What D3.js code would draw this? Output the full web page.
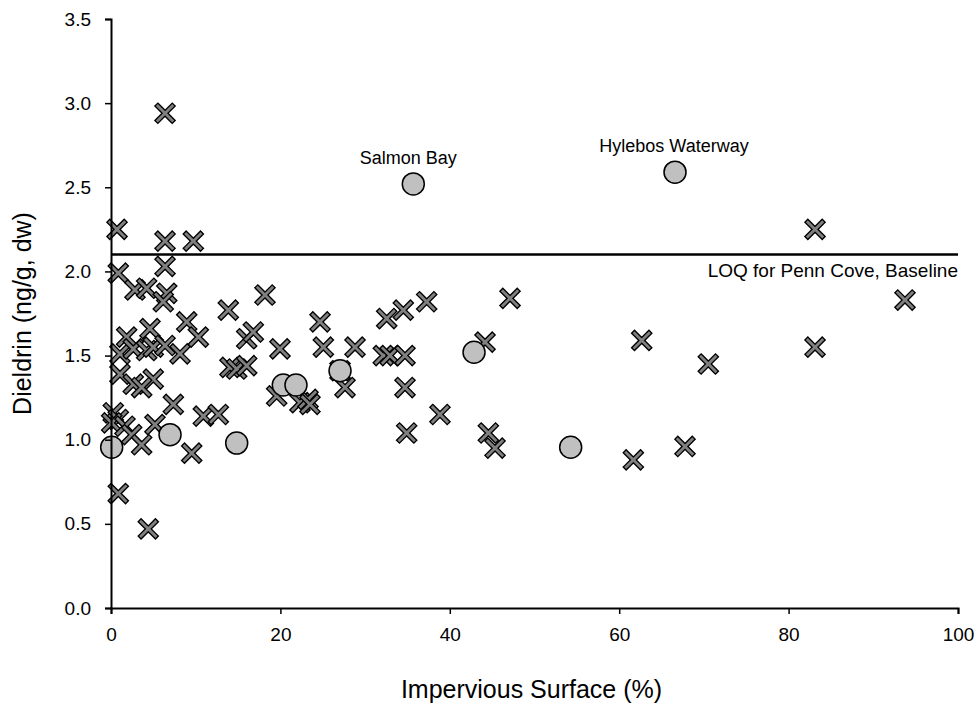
<!DOCTYPE html>
<html>
<head>
<meta charset="utf-8">
<script src="https://cdn.jsdelivr.net/npm/d3@7"></script>
<style>
  html, body { margin: 0; padding: 0; background: #fff; }
  svg { display: block; font-family: "Liberation Sans", Arial, sans-serif; }
</style>
</head>
<body>
<svg id="chart" width="979" height="707"></svg>
<script>
// ---- data ----
const xSitesPct = [6.38, 0.71, 6.38, 9.72, 0.86, 6.38, 2.83, 4.21, 6.58, 6.17, 8.94, 4.60, 1.85, 10.31, 13.85, 18.18,
  1.06, 2.63, 4.21, 4.99, 6.38, 8.15, 16.02, 16.80, 19.95, 14.05, 14.84, 16.02, 1.06, 4.99, 2.63, 3.62, 7.36,
  0.27, 0.86, 0.08, 1.65, 2.44, 3.62, 5.19, 10.90, 12.67, 9.53, 0.86, 4.40, 24.68, 25.07, 28.81, 19.56, 22.31,
  23.26, 23.49, 27.63, 27.04, 32.55, 34.51, 37.27, 32.15, 32.94, 34.71, 34.71, 38.84, 34.91, 44.55, 45.34, 44.16,
  47.11, 62.66, 70.52, 61.67, 67.77, 83.12, 83.12, 93.74];
const xSitesDieldrin = [2.94, 2.25, 2.18, 2.18, 1.99, 2.03, 1.89, 1.90, 1.87, 1.82, 1.70, 1.66, 1.61, 1.61, 1.77, 1.86,
  1.51, 1.54, 1.53, 1.55, 1.56, 1.51, 1.60, 1.64, 1.54, 1.43, 1.42, 1.44, 1.39, 1.36, 1.33, 1.31, 1.21,
  1.16, 1.12, 1.10, 1.08, 1.03, 0.97, 1.09, 1.14, 1.15, 0.92, 0.68, 0.47, 1.70, 1.55, 1.55, 1.26, 1.22,
  1.24, 1.21, 1.31, 1.41, 1.72, 1.77, 1.82, 1.50, 1.50, 1.50, 1.31, 1.15, 1.04, 1.04, 0.95, 1.58,
  1.84, 1.59, 1.45, 0.88, 0.96, 2.25, 1.55, 1.83];

const circleSitesPct = [0.08, 6.97, 14.84, 20.34, 21.84, 27.04, 42.86, 35.69, 66.59, 54.27];
const circleSitesDieldrin = [0.955, 1.03, 0.98, 1.325, 1.325, 1.41, 1.52, 2.52, 2.59, 0.955];
const circleLabels = ["", "", "", "", "", "", "", "Salmon Bay", "Hylebos Waterway", ""];

const loqValue = 2.1;
const loqLabel = "LOQ for Penn Cove, Baseline";

const xTicks = [0, 20, 40, 60, 80, 100];
const yTicks = [0.0, 0.5, 1.0, 1.5, 2.0, 2.5, 3.0, 3.5];
const xTitle = "Impervious Surface (%)";
const yTitle = "Dieldrin (ng/g, dw)";

// ---- layout ----
const svg = d3.select("#chart");
const mLeft = 111, mRight = 958, mTop = 19, mBottom = 608;

const x = d3.scaleLinear().domain([0, 100]).range([mLeft, mRight]);
const y = d3.scaleLinear().domain([0, 3.5]).range([mBottom, mTop]);

// LOQ line
svg.append("line")
  .attr("x1", x(0)).attr("x2", x(100))
  .attr("y1", y(loqValue)).attr("y2", y(loqValue))
  .attr("stroke", "#000").attr("stroke-width", 2.5);
svg.append("text")
  .attr("x", x(100)).attr("y", y(loqValue) + 22)
  .attr("text-anchor", "end")
  .attr("font-size", 19)
  .text(loqLabel);

// X markers
const xData = xSitesPct.map((v, i) => ({ x: v, y: xSitesDieldrin[i] }));
const arm = 7.2;
const xPath = `M${-arm},${-arm}L${arm},${arm}M${-arm},${arm}L${arm},${-arm}`;
const xg = svg.append("g").selectAll("g").data(xData).join("g")
  .attr("transform", d => `translate(${x(d.x)},${y(d.y)})`);
xg.append("path").attr("d", xPath).attr("stroke", "#000").attr("stroke-width", 5.5)
  .attr("stroke-linecap", "square").attr("fill", "none");
xg.append("path").attr("d", xPath).attr("stroke", "#808080").attr("stroke-width", 2.8)
  .attr("stroke-linecap", "square").attr("fill", "none");

// circles
const cData = circleSitesPct.map((v, i) => ({ x: v, y: circleSitesDieldrin[i], label: circleLabels[i] }));
svg.append("g").selectAll("circle").data(cData).join("circle")
  .attr("cx", d => x(d.x)).attr("cy", d => y(d.y)).attr("r", 11)
  .attr("fill", "#c0c0c0").attr("stroke", "#000").attr("stroke-width", 1.5);
svg.append("g").selectAll("text").data(cData.filter(d => d.label)).join("text")
  .attr("x", d => x(d.x) - (d.label === "Salmon Bay" ? 5 : 1)).attr("y", d => y(d.y) - 20)
  .attr("text-anchor", "middle").attr("font-size", 18)
  .text(d => d.label);

// axes
const xAxis = d3.axisBottom(x).tickValues(xTicks).tickSize(6).tickPadding(14).tickFormat(d3.format("d"));
const yAxis = d3.axisLeft(y).tickValues(yTicks).tickSize(6).tickPadding(14).tickFormat(d3.format(".1f"));

const gx = svg.append("g").attr("transform", `translate(0,${mBottom})`).call(xAxis);
const gy = svg.append("g").attr("transform", `translate(${mLeft},0)`).call(yAxis);
[gx, gy].forEach(g => {
  g.select(".domain").attr("stroke", "#000").attr("stroke-width", 2);
  g.selectAll(".tick line").attr("stroke", "#000").attr("stroke-width", 1.5);
  g.selectAll(".tick text").attr("fill", "#000").attr("font-size", 19)
    .attr("font-family", "Liberation Sans, Arial, sans-serif");
});

// titles
svg.append("text")
  .attr("x", (mLeft + mRight) / 2 - 3).attr("y", 698)
  .attr("text-anchor", "middle").attr("font-size", 25)
  .text(xTitle);
svg.append("text")
  .attr("transform", `translate(31,${(mTop + mBottom) / 2}) rotate(-90)`)
  .attr("text-anchor", "middle").attr("font-size", 25)
  .text(yTitle);
</script>
</body>
</html>
